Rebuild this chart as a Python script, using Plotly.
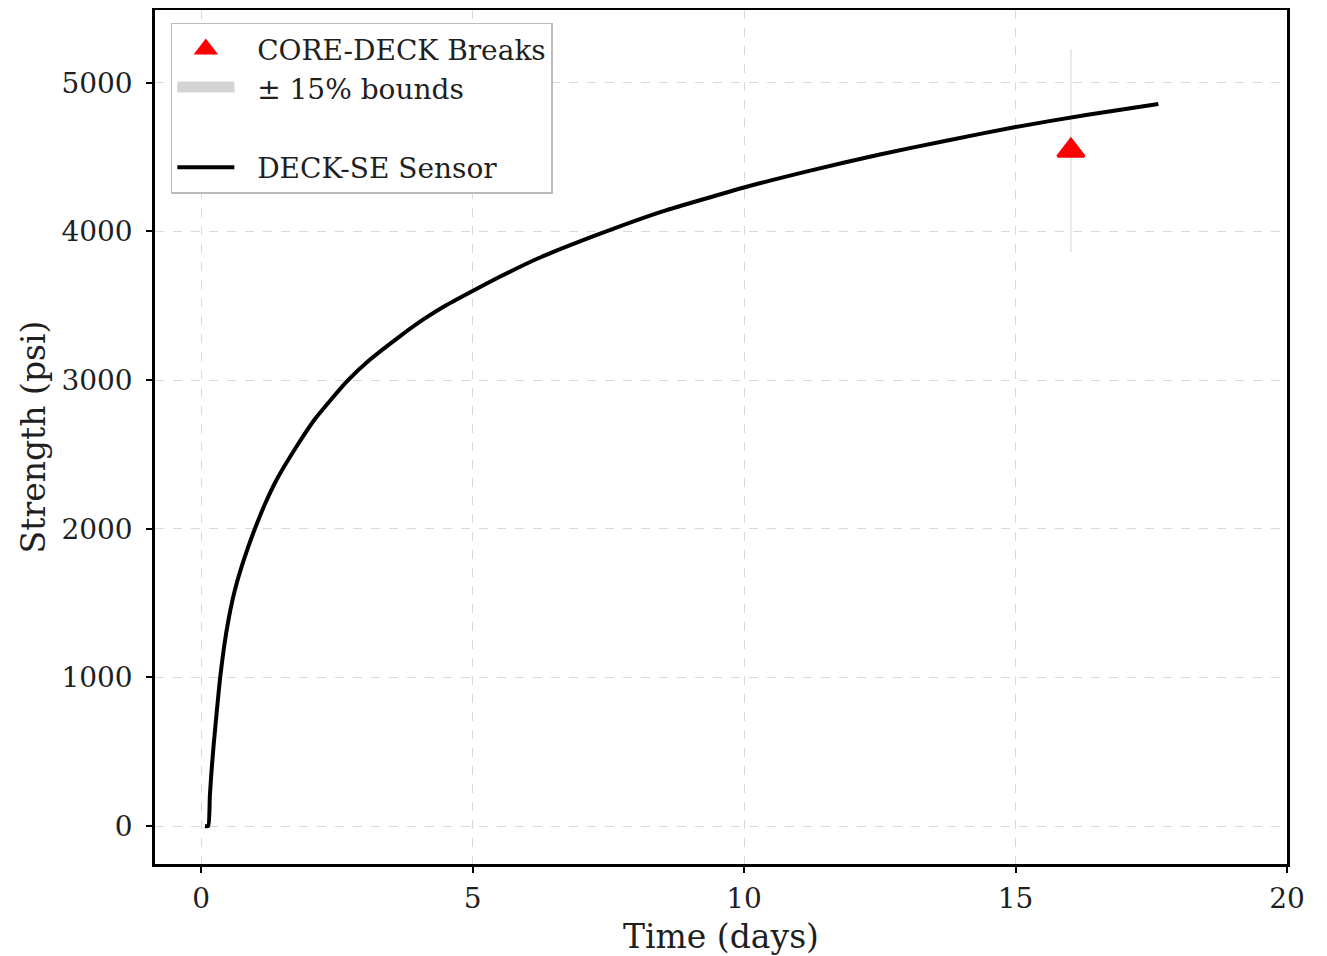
import plotly.graph_objects as go

# Sensor strength curve
time_days = [0.07, 0.13, 0.16, 0.19, 0.23, 0.29, 0.35, 0.42, 0.50, 0.58, 0.66, 0.75, 0.84,
             0.99, 1.18, 1.39, 1.76, 2.10, 2.68, 3.10, 3.66, 4.10, 4.52, 5.0, 5.5, 6.2,
             7.35, 8.5, 10.0, 11.2, 12.5, 13.7, 15.0, 16.3, 17.63]
strength_psi = [0, 0, 200, 365, 545, 779, 1000, 1200, 1380, 1525, 1640, 1750, 1850,
                2000, 2170, 2330, 2555, 2740, 2990, 3135, 3295, 3410, 3505, 3600, 3695, 3818,
                3985, 4135, 4296, 4408, 4518, 4609, 4703, 4784, 4858]

# Core breaks
break_time = [16.02]
break_strength = [4544]
bound_frac = 0.15

x_ticks = [0, 5, 10, 15, 20]
y_ticks = [0, 1000, 2000, 3000, 4000, 5000]

FONT = "DejaVu Serif"
TXT = "#1f1f1f"

fig = go.Figure()

lo = [v * (1 - bound_frac) for v in break_strength]
hi = [v * (1 + bound_frac) for v in break_strength]

# bounds line (drawn)
for t, a, b in zip(break_time, lo, hi):
    fig.add_trace(go.Scatter(x=[t, t], y=[a, b], mode="lines",
                             line=dict(color="#e3e3e3", width=1.5),
                             showlegend=False, hoverinfo="skip"))

fig.add_trace(go.Scatter(x=break_time, y=break_strength, mode="markers",
                         name="  CORE-DECK Breaks", legendgroup="a",
                         marker=dict(symbol="triangle-up", size=23, color="red",
                                     line=dict(color="red", width=3))))
fig.add_trace(go.Scatter(x=[None], y=[None], mode="lines", name="  ± 15% bounds",
                         legendgroup="b", fill="tozeroy", fillcolor="#d3d3d3",
                         line=dict(color="#d3d3d3", width=18)))
fig.add_trace(go.Scatter(x=[None], y=[None], mode="lines", name=" ",
                         legendgroup="c",
                         line=dict(color="rgba(0,0,0,0)", width=1)))
fig.add_trace(go.Scatter(x=time_days, y=strength_psi, mode="lines",
                         name="  DECK-SE Sensor", legendgroup="d",
                         line=dict(color="black", width=4, shape="spline", smoothing=0.5)))

axis_common = dict(
    showline=True, linecolor="black", linewidth=2.5, mirror=True,
    ticks="outside", ticklen=6, tickwidth=1.5, tickcolor="black",
    showgrid=True, gridcolor="#d9d9d9", gridwidth=1, griddash="dash",
    zeroline=False, automargin=False,
    tickfont=dict(family=FONT, size=28, color=TXT),
)

fig.update_xaxes(range=[-0.85, 20], tickvals=x_ticks, ticklabelstandoff=2,
                 title=dict(text="Time (days)", font=dict(family=FONT, size=33, color=TXT),
                            standoff=12),
                 **axis_common)
fig.update_yaxes(range=[-255, 5490], tickvals=y_ticks, ticklabelstandoff=8,
                 title=dict(text="Strength (psi)", font=dict(family=FONT, size=33, color=TXT),
                            standoff=6),
                 **axis_common)

fig.update_layout(
    width=1319, height=948,
    margin=dict(l=147, r=40, t=1.5, b=92),
    paper_bgcolor="white", plot_bgcolor="white",
    font=dict(family=FONT, color=TXT),
    showlegend=True,
    legend=dict(x=0.014, y=0.985, xanchor="left", yanchor="top",
                bgcolor="white", bordercolor="#bbbbbb", borderwidth=1.5,
                font=dict(family=FONT, size=28, color=TXT),
                itemwidth=57, tracegroupgap=14, traceorder="normal"),
)

fig.write_html("out.html")
